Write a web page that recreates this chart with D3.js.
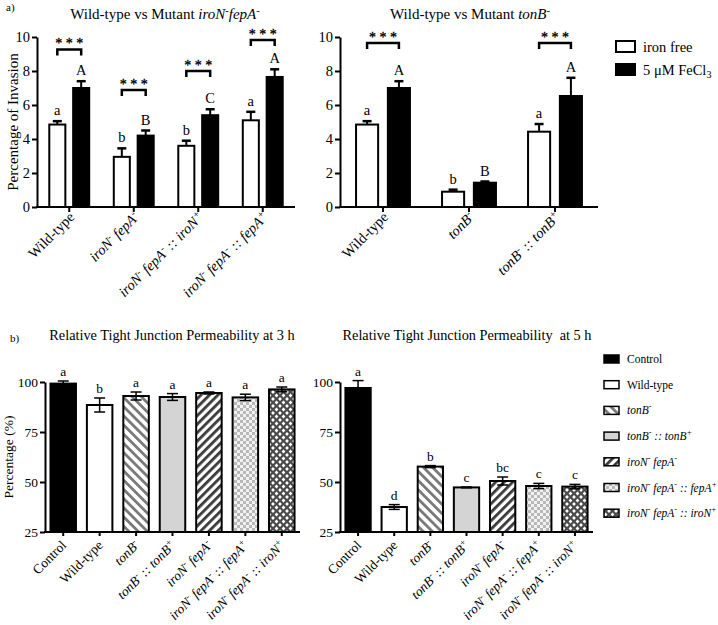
<!DOCTYPE html>
<html><head><meta charset="utf-8">
<script src="https://cdn.jsdelivr.net/npm/d3@7"></script>
<style>
body{margin:0;background:#fff}
svg, svg text{font-family:"Liberation Serif","Times New Roman",serif;}
</style>
</head><body>
<svg id="c" width="718" height="625"></svg>
<script>
// ---------- DATA ----------
const invLeftCats = ["Wild-type", "iroN^- fepA^-", "iroN^- fepA^- :: iroN^+", "iroN^- fepA^- :: fepA^+"];
const invLeftFree = [4.85, 2.95, 3.6, 5.1];
const invLeftFreeErr = [0.2, 0.5, 0.3, 0.5];
const invLeftFe = [7.0, 4.2, 5.4, 7.65];
const invLeftFeErr = [0.4, 0.3, 0.35, 0.45];
const invLeftFreeLetters = ["a", "b", "b", "a"];
const invLeftFeLetters = ["A", "B", "C", "A"];
const invLeftBracket = [9.27, 6.88, 8.0, 9.82];

const invRightCats = ["Wild-type", "tonB^-", "tonB^- :: tonB^+"];
const invRightFree = [4.85, 0.9, 4.43];
const invRightFreeErr = [0.2, 0.12, 0.45];
const invRightFe = [7.0, 1.43, 6.53];
const invRightFeErr = [0.4, 0.07, 1.07];
const invRightFreeLetters = ["a", "b", "a"];
const invRightFeLetters = ["A", "B", "A"];
const invRightBracket = [9.65, null, 9.65];

const invTicks = [0, 2, 4, 6, 8, 10];
const invSeries = ["iron free", "5 μM FeCl_3"];

const tjCats = ["Control", "Wild-type", "tonB^-", "tonB^- :: tonB^+", "iroN^- fepA^-", "iroN^- fepA^- :: fepA^+", "iroN^- fepA^- :: iroN^+"];
const tj3 = [99.2, 88.5, 93.0, 92.5, 94.5, 92.3, 96.3];
const tj3Err = [1.3, 3.5, 2.0, 1.7, 0.5, 1.6, 1.2];
const tj3Letters = ["a", "b", "a", "a", "a", "a", "a"];
const tj5 = [97.0, 37.5, 57.7, 47.3, 50.5, 48.0, 47.7];
const tj5Err = [3.7, 1.2, 0.5, 0.2, 2.0, 1.3, 1.1];
const tj5Letters = ["a", "d", "b", "c", "bc", "c", "c"];
const tjTicks = [25, 50, 75, 100];
const tjFills = ["#000", "#fff", "url(#pStripeB)", "#d4d4d4", "url(#pStripeF)", "url(#pCheck)", "url(#pDots)"];

// ---------- HELPERS ----------
const FONT = '"Liberation Serif","Times New Roman",serif';
const svg = d3.select("#c");
const defs = svg.append("defs");
let p = defs.append("pattern").attr("id","pStripeB").attr("patternUnits","userSpaceOnUse")
  .attr("width",6.5).attr("height",6.5).attr("patternTransform","rotate(-45)");
p.append("rect").attr("width",6.5).attr("height",6.5).attr("fill","#fff");
p.append("rect").attr("width",2.8).attr("height",6.5).attr("fill","#7a7a7a");
p = defs.append("pattern").attr("id","pStripeF").attr("patternUnits","userSpaceOnUse")
  .attr("width",6).attr("height",6).attr("patternTransform","rotate(45)");
p.append("rect").attr("width",6).attr("height",6).attr("fill","#fff");
p.append("rect").attr("width",2.8).attr("height",6).attr("fill","#3a3a3a");
p = defs.append("pattern").attr("id","pCheck").attr("patternUnits","userSpaceOnUse")
  .attr("width",6).attr("height",6);
p.append("rect").attr("width",6).attr("height",6).attr("fill","#f2f2f2");
p.append("rect").attr("width",3).attr("height",3).attr("fill","#b8b8b8");
p.append("rect").attr("x",3).attr("y",3).attr("width",3).attr("height",3).attr("fill","#b8b8b8");
p = defs.append("pattern").attr("id","pDots").attr("patternUnits","userSpaceOnUse")
  .attr("width",7).attr("height",7);
p.append("rect").attr("width",7).attr("height",7).attr("fill","#4a4a4a");
[[0,0],[7,0],[0,7],[7,7],[3.5,3.5]].forEach(([x,y])=>
  p.append("path").attr("d",`M${x-1.9},${y}L${x},${y-1.9}L${x+1.9},${y}L${x},${y+1.9}Z`).attr("fill","#fff"));

function rich(t, str, italic) {
  const parts = str.split(/(\^[+-]|_\d)/).filter(s => s !== "");
  let shift = 0;
  parts.forEach(s => {
    const ts = t.append("tspan");
    if (s[0] === "^" || s[0] === "_") {
      const d = s[0] === "^" ? -5 : 3;
      ts.text(s[1]).attr("font-size", "0.7em").attr("dy", d);
      if (italic) ts.attr("font-style", "italic");
      shift = -d;
    } else {
      ts.text(s);
      if (shift) { ts.attr("dy", shift); shift = 0; }
      if (italic) ts.attr("font-style", "italic");
    }
  });
  return t;
}
const isGene = s => !(s === "Wild-type" || s === "Control");
function styleAxis(ax, fs) {
  ax.attr("font-family", null).attr("font-size", null);
  ax.select(".domain").attr("stroke-width", 2);
  ax.selectAll(".tick line").attr("stroke-width", 2);
  ax.selectAll(".tick text").attr("font-size", fs).style("font-family", FONT).attr("fill", "#000");
}

// ---------- INVASION PANELS ----------
function invPanel(o) {
  const g = svg.append("g");
  const y = d3.scaleLinear().domain([0, 10]).range([207, 37]);
  const x = d3.scaleBand().domain(o.cats.map((d,i)=>i)).range(o.xr);
  const bw = x.bandwidth(), w = bw * 0.28, gap = bw * 0.09;
  const cx = i => x(i) + bw / 2;
  const wc = i => cx(i) - gap / 2 - w / 2, bc = i => cx(i) + gap / 2 + w / 2;

  const ax = g.append("g").attr("transform", `translate(${o.xr[0]},0)`)
    .call(d3.axisLeft(y).tickValues(invTicks).tickSize(5).tickSizeOuter(0).tickPadding(2));
  styleAxis(ax, 14.5);

  const series = [
    {v: o.free, e: o.freeErr, l: o.freeL, c: wc, fill: "#fff"},
    {v: o.fe, e: o.feErr, l: o.feL, c: bc, fill: "#000"}
  ];
  series.forEach(s => {
    s.v.forEach((v, i) => {
      g.append("line").attr("x1", s.c(i)).attr("x2", s.c(i)).attr("y1", y(v)).attr("y2", y(v + s.e[i]))
        .attr("stroke", "#000").attr("stroke-width", 2);
      g.append("line").attr("x1", s.c(i) - 4.5).attr("x2", s.c(i) + 4.5).attr("y1", y(v + s.e[i])).attr("y2", y(v + s.e[i]))
        .attr("stroke", "#000").attr("stroke-width", 2.5);
      g.append("rect").attr("x", s.c(i) - w / 2 + 1).attr("width", w - 2).attr("y", y(v)).attr("height", y(0) - y(v))
        .attr("fill", s.fill).attr("stroke", "#000").attr("stroke-width", 2);
      g.append("text").attr("x", s.c(i)).attr("y", y(v + s.e[i]) - 6).attr("text-anchor", "middle")
        .attr("font-size", 14.5).text(s.l[i]);
    });
  });
  o.br.forEach((b, i) => {
    if (b == null) return;
    const yy = y(b);
    g.append("path").attr("d", `M${wc(i)},${yy + 6}V${yy}H${bc(i)}V${yy + 6}`)
      .attr("fill", "none").attr("stroke", "#000").attr("stroke-width", 2.5);
    g.append("text").attr("x", cx(i)).attr("y", yy - 1).attr("text-anchor", "middle")
      .attr("font-size", 14).attr("fill", "#000").attr("stroke", "#000").attr("stroke-width", 0.3)
      .text("* * *");
  });
  g.append("line").attr("x1", o.xr[0] - 1).attr("x2", o.xr[1]).attr("y1", y(0)).attr("y2", y(0))
    .attr("stroke", "#000").attr("stroke-width", 2);
  o.cats.forEach((c, i) => {
    g.append("line").attr("x1", cx(i)).attr("x2", cx(i)).attr("y1", y(0)).attr("y2", y(0) + 5)
      .attr("stroke", "#000").attr("stroke-width", 2);
    const t = g.append("text").attr("text-anchor", "end").attr("font-size", 14.5)
      .attr("transform", `translate(${cx(i) + 6},${y(0) + 11}) rotate(-45)`);
    rich(t, c, isGene(c));
  });
}

invPanel({cats: invLeftCats, xr: [37, 295], free: invLeftFree, freeErr: invLeftFreeErr, fe: invLeftFe, feErr: invLeftFeErr,
  freeL: invLeftFreeLetters, feL: invLeftFeLetters, br: invLeftBracket});
invPanel({cats: invRightCats, xr: [340, 598], free: invRightFree, freeErr: invRightFreeErr, fe: invRightFe, feErr: invRightFeErr,
  freeL: invRightFreeLetters, feL: invRightFeLetters, br: invRightBracket});

svg.append("text").attr("x", 6).attr("y", 11).attr("font-size", 11).text("a)");
let t = svg.append("text").attr("x", 165).attr("y", 19).attr("text-anchor", "middle").attr("font-size", 15);
t.append("tspan").text("Wild-type vs Mutant ");
rich(t, "iroN^-fepA^-", true);
t = svg.append("text").attr("x", 470).attr("y", 19).attr("text-anchor", "middle").attr("font-size", 15);
t.append("tspan").text("Wild-type vs Mutant ");
rich(t, "tonB^-", true);
svg.append("text").attr("transform", "translate(18,122) rotate(-90)").attr("text-anchor", "middle")
  .attr("font-size", 15).text("Percentage of Invasion");
invSeries.forEach((s, i) => {
  const yy = 41 + i * 23;
  svg.append("rect").attr("x", 616).attr("y", yy).attr("width", 19).attr("height", 11)
    .attr("fill", i ? "#000" : "#fff").attr("stroke", "#000").attr("stroke-width", 2);
  rich(svg.append("text").attr("x", 643).attr("y", yy + 11).attr("font-size", 14.5), s, false);
});

// ---------- TIGHT JUNCTION PANELS ----------
function tjPanel(o) {
  const g = svg.append("g");
  const y = d3.scaleLinear().domain([25, 100]).range([532, 382]);
  const x = d3.scaleBand().domain(tjCats).range(o.xr).paddingInner(0.3).paddingOuter(0.15);
  const w = x.bandwidth();
  const ax = g.append("g").attr("transform", `translate(${o.xr[0]},0)`)
    .call(d3.axisLeft(y).tickValues(tjTicks).tickSize(5).tickSizeOuter(0).tickPadding(2));
  styleAxis(ax, 13.5);

  tjCats.forEach((c, i) => {
    const v = o.v[i], e = o.e[i], xc = x(c) + w / 2;
    g.append("rect").attr("x", x(c)).attr("width", w).attr("y", y(v)).attr("height", y(25) - y(v))
      .attr("fill", tjFills[i]).attr("stroke", "#000").attr("stroke-width", 2);
    g.append("line").attr("x1", xc).attr("x2", xc).attr("y1", y(v - e)).attr("y2", y(v + e))
      .attr("stroke", "#000").attr("stroke-width", 1.5);
    [v - e, v + e].forEach(q => g.append("line").attr("x1", xc - 5.5).attr("x2", xc + 5.5)
      .attr("y1", y(q)).attr("y2", y(q)).attr("stroke", "#000").attr("stroke-width", 1.5));
    g.append("text").attr("x", xc).attr("y", y(v + e) - 5).attr("text-anchor", "middle")
      .attr("font-size", 13.5).text(o.l[i]);
    g.append("line").attr("x1", xc).attr("x2", xc).attr("y1", y(25)).attr("y2", y(25) + 4)
      .attr("stroke", "#000").attr("stroke-width", 2);
    const tt = g.append("text").attr("text-anchor", "end").attr("font-size", 13.5)
      .attr("transform", `translate(${xc + 4},${y(25) + 14}) rotate(-45)`);
    rich(tt, c, isGene(c));
  });
  g.append("line").attr("x1", o.xr[0] - 1).attr("x2", o.xr[1]).attr("y1", y(25)).attr("y2", y(25))
    .attr("stroke", "#000").attr("stroke-width", 2);
}
tjPanel({xr: [45, 300], v: tj3, e: tj3Err, l: tj3Letters});
tjPanel({xr: [340, 593], v: tj5, e: tj5Err, l: tj5Letters});

svg.append("text").attr("x", 10).attr("y", 342).attr("font-size", 11).text("b)");
svg.append("text").attr("x", 172).attr("y", 340).attr("text-anchor", "middle").attr("font-size", 14.3)
  .text("Relative Tight Junction Permeability at 3 h");
svg.append("text").attr("x", 467).attr("y", 340).attr("text-anchor", "middle").attr("font-size", 14.3)
  .attr("xml:space", "preserve").style("white-space", "pre").text("Relative Tight Junction Permeability  at 5 h");
svg.append("text").attr("transform", "translate(13,457) rotate(-90)").attr("text-anchor", "middle")
  .attr("font-size", 13.5).text("Percentage (%)");
tjCats.forEach((c, i) => {
  const yy = 359 + i * 25.7;
  svg.append("rect").attr("x", 604).attr("y", yy - 4).attr("width", 15).attr("height", 8)
    .attr("fill", tjFills[i]).attr("stroke", "#000").attr("stroke-width", 1.5);
  rich(svg.append("text").attr("x", 627).attr("y", yy + 4).attr("font-size", 11.5), c, isGene(c));
});
</script>
</body></html>
